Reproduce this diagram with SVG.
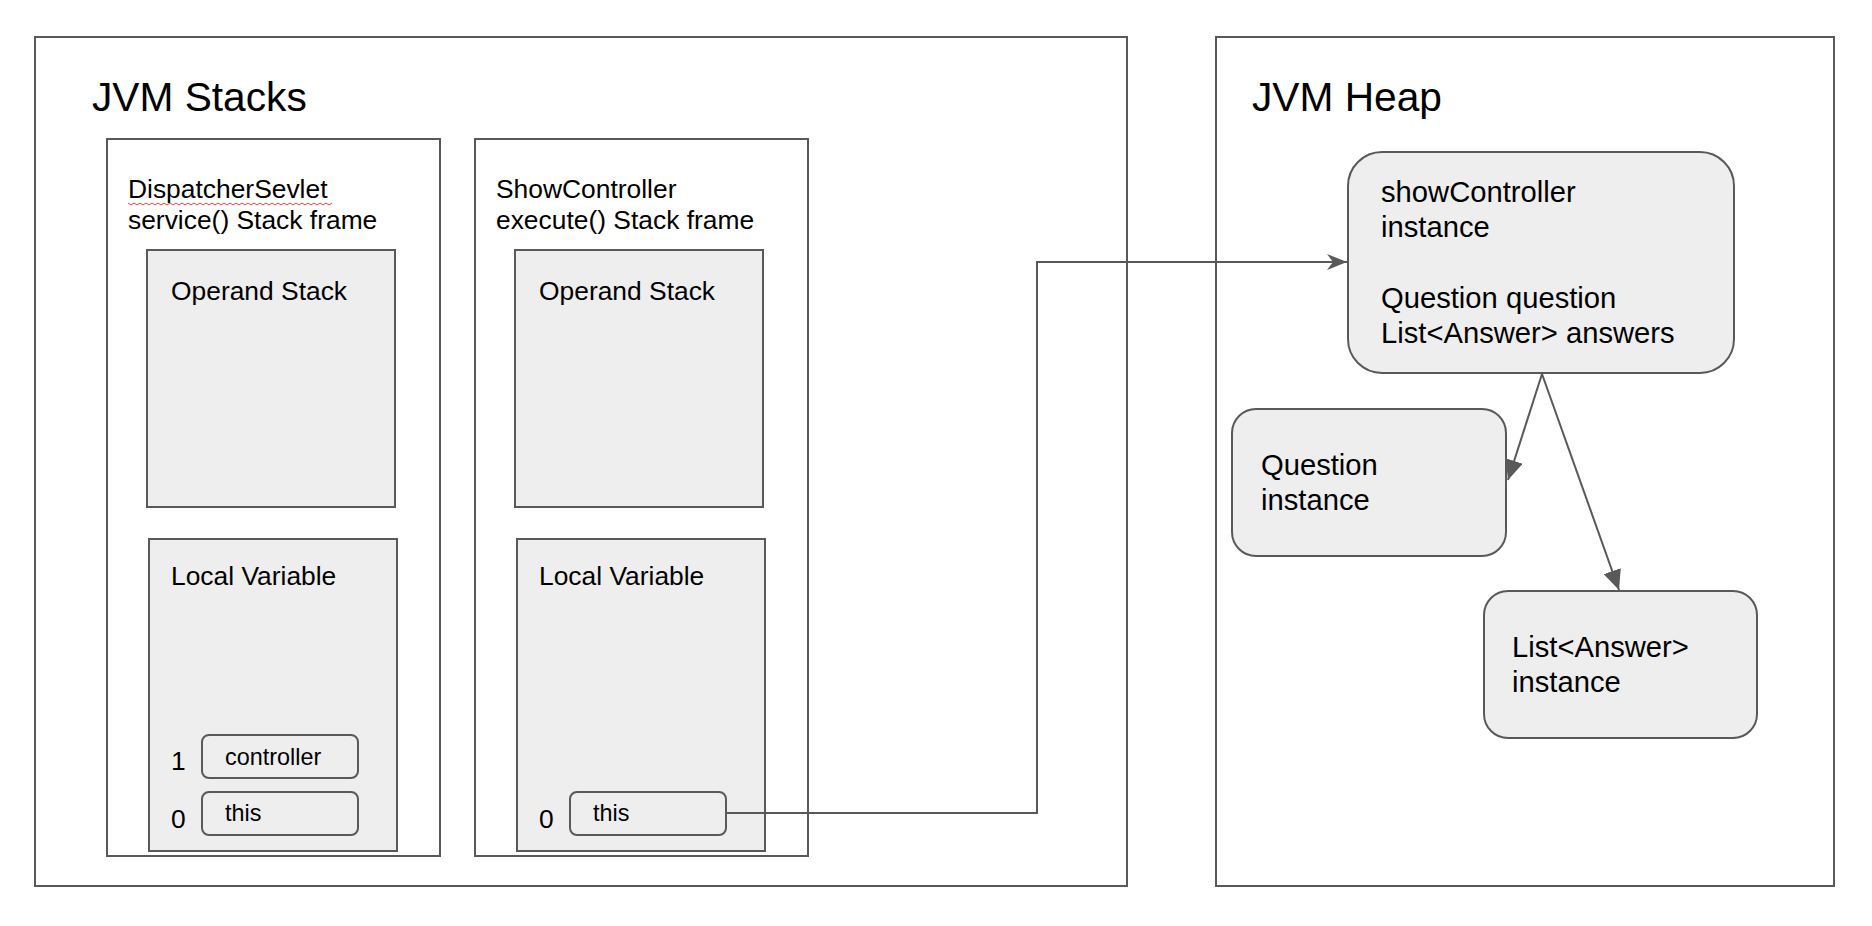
<svg xmlns="http://www.w3.org/2000/svg" width="1872" height="926" viewBox="0 0 1872 926">
<style>
text{font-family:"Liberation Sans",Arial,sans-serif;fill:#000}
.area{fill:#fff;stroke:#595959;stroke-width:2}
.box{fill:#eeeeee;stroke:#595959;stroke-width:2}
.slot{fill:#eeeeee;stroke:#595959;stroke-width:2}
.conn{fill:none;stroke:#595959;stroke-width:2}
.t40{font-size:40.7px}
.t26{font-size:26.4px}
.t24{font-size:23.4px}
.t29{font-size:29.2px}
</style>
<defs>
<marker id="open" viewBox="0 0 20 16" refX="20" refY="8" markerWidth="20" markerHeight="16" markerUnits="userSpaceOnUse" orient="auto">
<path d="M0,0 L20,8 L0,16 L6,8 Z" fill="#595959"/>
</marker>
<marker id="tri" viewBox="0 0 20 18" refX="20" refY="9" markerWidth="20" markerHeight="18" markerUnits="userSpaceOnUse" orient="auto">
<path d="M0,0 L20,9 L0,18 Z" fill="#595959"/>
</marker>
</defs>
<rect width="1872" height="926" fill="#fff"/>
<g id="stacks">
<rect class="area" x="35" y="37" width="1092" height="849"/>
<text class="t40" x="92" y="111">JVM Stacks</text>
</g>
<g id="heap">
<rect class="area" x="1216" y="37" width="618" height="849"/>
<text class="t40" x="1252" y="111">JVM Heap</text>
</g>
<g id="frame1">
<rect class="area" x="107" y="139" width="333" height="717"/>
<text class="t26" x="128" y="198">DispatcherSevlet</text>
<path d="M128,203 l3,2 l3,-2 l3,2 l3,-2 l3,2 l3,-2 l3,2 l3,-2 l3,2 l3,-2 l3,2 l3,-2 l3,2 l3,-2 l3,2 l3,-2 l3,2 l3,-2 l3,2 l3,-2 l3,2 l3,-2 l3,2 l3,-2 l3,2 l3,-2 l3,2 l3,-2 l3,2 l3,-2 l3,2 l3,-2 l3,2 l3,-2 l3,2 l3,-2 l3,2 l3,-2 l3,2 l3,-2 l3,2 l3,-2 l3,2 l3,-2 l3,2 l3,-2 l3,2 l3,-2 l3,2 l3,-2 l3,2 l3,-2 l3,2 l3,-2 l3,2 l3,-2 l3,2 l3,-2 l3,2 l3,-2 l3,2 l3,-2 l3,2 l3,-2 l3,2 l3,-2 l3,2 l3,-2" fill="none" stroke="#e0463c" stroke-width="1"/>
<text class="t26" x="128" y="229">service() Stack frame</text>
</g>
<g id="operand1">
<rect class="box" x="147" y="250" width="248" height="257"/>
<text class="t26" x="171" y="300">Operand Stack</text>
</g>
<g id="local1">
<rect class="box" x="149" y="539" width="248" height="312"/>
<text class="t26" x="171" y="585">Local Variable</text>
<text class="t26" x="171" y="770">1</text>
<text class="t26" x="171" y="828">0</text>
</g>
<g id="slot-controller">
<rect class="slot" x="202" y="735" width="156" height="43" rx="7"/>
<text class="t24" x="225" y="765">controller</text>
</g>
<g id="slot-this1">
<rect class="slot" x="202" y="792" width="156" height="43" rx="7"/>
<text class="t24" x="225" y="821">this</text>
</g>
<g id="frame2">
<rect class="area" x="475" y="139" width="333" height="717"/>
<text class="t26" x="496" y="198">ShowController</text>
<text class="t26" x="496" y="229">execute() Stack frame</text>
</g>
<g id="operand2">
<rect class="box" x="515" y="250" width="248" height="257"/>
<text class="t26" x="539" y="300">Operand Stack</text>
</g>
<g id="local2">
<rect class="box" x="517" y="539" width="248" height="312"/>
<text class="t26" x="539" y="585">Local Variable</text>
<text class="t26" x="539" y="828">0</text>
</g>
<g id="slot-this2">
<rect class="slot" x="570" y="792" width="156" height="43" rx="7"/>
<text class="t24" x="593" y="821">this</text>
</g>
<g id="showController">
<rect class="box" x="1348" y="152" width="386" height="221" rx="34"/>
<text class="t29" x="1381" y="202">showController</text>
<text class="t29" x="1381" y="237">instance</text>
<text class="t29" x="1381" y="308">Question question</text>
<text class="t29" x="1381" y="343">List&lt;Answer&gt; answers</text>
</g>
<g id="question">
<rect class="box" x="1232" y="409" width="274" height="147" rx="24"/>
<text class="t29" x="1261" y="475">Question</text>
<text class="t29" x="1261" y="510">instance</text>
</g>
<g id="answers">
<rect class="box" x="1484" y="591" width="273" height="147" rx="24"/>
<text class="t29" x="1512" y="657">List&lt;Answer&gt;</text>
<text class="t29" x="1512" y="692">instance</text>
</g>
<g id="connectors">
<path class="conn" d="M726,813 H1037 V262 H1347" marker-end="url(#open)"/>
<path class="conn" d="M1542,374 L1508,480" marker-end="url(#tri)"/>
<path class="conn" d="M1542,374 L1619,590" marker-end="url(#tri)"/>
</g>
</svg>
